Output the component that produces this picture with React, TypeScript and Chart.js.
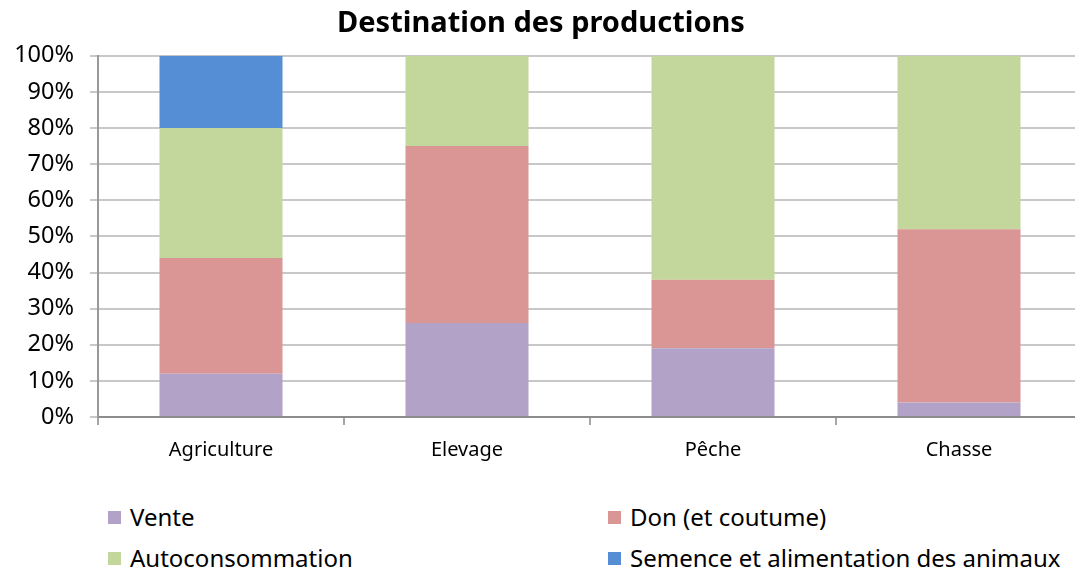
import React, { useEffect, useRef } from "react";
import { Chart, registerables } from "chart.js";

Chart.register(...registerables);

const categories = ["Agriculture", "Elevage", "Pêche", "Chasse"];
const seriesNames = [
  "Vente",
  "Don (et coutume)",
  "Autoconsommation",
  "Semence et alimentation des animaux",
];
const vente = [12, 26, 19, 4];
const don = [32, 49, 19, 48];
const autoconsommation = [36, 25, 62, 48];
const semence = [20, 0, 0, 0];
const colors = ["#b3a2c7", "#d99694", "#c3d69b", "#558ed5"];
const yTicks = [0, 10, 20, 30, 40, 50, 60, 70, 80, 90, 100];
const title = "Destination des productions";

const FONT = "'Noto Sans', 'Open Sans', sans-serif";

export default function App() {
  const ref = useRef<HTMLCanvasElement | null>(null);

  useEffect(() => {
    document.body.style.margin = "0";
    document.body.style.overflow = "hidden";
    const values = [vente, don, autoconsommation, semence];
    const chart = new Chart(ref.current!, {
      type: "bar",
      data: {
        labels: categories,
        datasets: seriesNames.map((name, i) => ({
          label: name,
          data: values[i],
          backgroundColor: colors[i],
          borderWidth: 0,
          categoryPercentage: 1,
          barPercentage: 0.5,
        })),
      },
      options: {
        responsive: false,
        animation: false,
        devicePixelRatio: 1,
        layout: { padding: { left: 0, right: 0, top: 0, bottom: 0 } },
        plugins: {
          legend: { display: false },
          tooltip: { enabled: false },
          title: {
            display: true,
            text: title,
            color: "#000",
            font: { family: FONT, size: 29, weight: "bold" },
            padding: { top: 6, bottom: 15 },
          },
        },
        scales: {
          x: {
            stacked: true,
            grid: {
              drawOnChartArea: false,
              drawTicks: true,
              tickLength: 8,
              color: "#a6a6a6",
              lineWidth: 2,
            },
            border: { color: "#8c8c8c", width: 2 },
            ticks: {
              color: "#000",
              font: { family: FONT, size: 20 },
              padding: 13,
            },
            afterFit: (scale: any) => {
              scale.height = 63;
            },
          },
          y: {
            stacked: true,
            min: 0,
            max: 100,
            afterBuildTicks: (scale: any) => {
              scale.ticks = yTicks.map((v) => ({ value: v }));
            },
            grid: {
              color: "#c8c8c8",
              lineWidth: 2,
              drawTicks: true,
              tickLength: 8,
            },
            border: { color: "#999999", width: 2 },
            ticks: {
              color: "#000",
              font: { family: FONT, size: 23.5 },
              padding: 16,
              callback: (v: any) => v + "%",
            },
            afterFit: (scale: any) => {
              scale.width = 98;
            },
          },
        },
      },
    });
    return () => chart.destroy();
  }, []);

  const legendItem = (i: number, left: number, top: number) => (
    <div
      key={i}
      style={{
        position: "absolute",
        left,
        top,
        display: "flex",
        alignItems: "center",
        fontFamily: FONT,
        fontSize: 24,
        lineHeight: "30px",
        color: "#000",
        whiteSpace: "nowrap",
      }}
    >
      <span
        style={{
          display: "inline-block",
          width: 13,
          height: 13,
          background: colors[i],
          marginRight: 9,
        }}
      />
      {seriesNames[i]}
    </div>
  );

  return (
    <div
      style={{
        position: "fixed",
        left: 0,
        top: 0,
        width: 1075,
        height: 574,
        overflow: "hidden",
        background: "#fff",
      }}
    >
      <canvas
        ref={ref}
        width={1082}
        height={480}
        style={{ position: "absolute", left: 0, top: 0, width: 1082, height: 480 }}
      />
      {legendItem(0, 108, 502)}
      {legendItem(1, 608, 502)}
      {legendItem(2, 108, 543)}
      {legendItem(3, 608, 543)}
    </div>
  );
}
